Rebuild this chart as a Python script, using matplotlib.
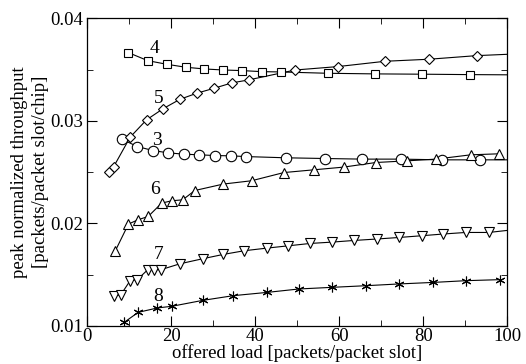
import matplotlib
matplotlib.use("Agg")
import matplotlib.pyplot as plt
from matplotlib.ticker import MultipleLocator

plt.rcParams['font.family'] = ['Liberation Serif', 'DejaVu Serif']

# Series (x = offered load, y = peak normalized throughput)
x3 = [8.2, 11.9, 15.6, 19.3, 23.1, 26.7, 30.4, 34.2, 37.7, 47.2, 56.6, 65.5, 74.7, 84.4, 93.5]
y3 = [0.02822, 0.02750, 0.02711, 0.02688, 0.02675, 0.02669, 0.02662, 0.02659, 0.02652,
      0.02640, 0.02633, 0.02627, 0.02627, 0.02620, 0.02620]

x4 = [9.8, 14.4, 18.9, 23.4, 27.9, 32.4, 36.9, 41.5, 46.0, 57.2, 68.5, 79.8, 91.0]
y4 = [0.03665, 0.03587, 0.03552, 0.03523, 0.03506, 0.03496, 0.03490, 0.03480, 0.03477,
      0.03464, 0.03458, 0.03455, 0.03451]

x5 = [5.2, 6.3, 10.2, 14.1, 18.1, 22.1, 26.1, 30.2, 34.4, 38.5, 49.5, 59.6, 70.9, 81.4, 92.7]
y5 = [0.02500, 0.02555, 0.02841, 0.03010, 0.03120, 0.03211, 0.03270, 0.03318, 0.03370,
      0.03400, 0.03496, 0.03529, 0.03581, 0.03601, 0.03636]

x6 = [6.6, 9.8, 12.1, 14.5, 17.7, 20.1, 22.7, 25.6, 32.4, 39.1, 46.8, 54.0, 61.0, 68.7,
      76.0, 83.0, 91.3, 98.1]
y6 = [0.01727, 0.01994, 0.02036, 0.02068, 0.02198, 0.02221, 0.02230, 0.02321, 0.02384,
      0.02416, 0.02496, 0.02523, 0.02549, 0.02594, 0.02610, 0.02627, 0.02669, 0.02679]

x7 = [6.3, 8.0, 10.2, 11.9, 14.4, 15.9, 17.5, 22.1, 27.5, 32.4, 37.4, 42.9, 47.9, 53.1,
      58.3, 63.5, 68.9, 74.2, 79.6, 84.8, 90.1, 95.6]
y7 = [0.01289, 0.01306, 0.01442, 0.01452, 0.01549, 0.01549, 0.01549, 0.01607, 0.01656,
      0.01698, 0.01734, 0.01760, 0.01782, 0.01805, 0.01818, 0.01834, 0.01848, 0.01863,
      0.01880, 0.01897, 0.01912, 0.01912]

x8 = [8.8, 12.1, 16.7, 20.1, 27.5, 34.8, 42.9, 50.4, 58.3, 66.4, 74.2, 82.4, 90.2, 98.3]
y8 = [0.01036, 0.01133, 0.01176, 0.01192, 0.01250, 0.01296, 0.01328, 0.01361, 0.01377,
      0.01393, 0.01410, 0.01425, 0.01442, 0.01452]

# where each curve meets the right edge (x = 100)
line_end = {"3": 0.02620, "4": 0.03449, "5": 0.03649, "7": 0.01932}

series = [
    ("3", x3, y3, "o", 7.5),
    ("4", x4, y4, "s", 5.5),
    ("5", x5, y5, "D", 5),
    ("6", x6, y6, "^", 6.5),
    ("7", x7, y7, "v", 6.5),
    ("8", x8, y8, (6, 2, 0), 7),
]

# curve labels
label_pos = {"4": (16.1, 0.0371), "5": (16.9, 0.0322), "3": (16.5, 0.0281),
             "6": (16.1, 0.0233), "7": (17.1, 0.01695), "8": (16.9, 0.0129)}

fig = plt.figure(figsize=(5.26, 3.64), dpi=100)
ax = fig.add_axes([87.3 / 526, 1 - 326 / 364, 420 / 526, 307.7 / 364])

for name, xs, ys, mk, ms in series:
    lx = list(xs)
    ly = list(ys)
    if name in line_end:
        lx.append(100)
        ly.append(line_end[name])
    ax.plot(lx, ly, color="black", lw=0.8, zorder=2)
    ax.plot(xs, ys, linestyle="none", marker=mk, ms=ms, mfc="white", mec="black",
            mew=0.8, zorder=3)
    tx, ty = label_pos[name]
    ax.text(tx, ty, name, fontsize=14, ha="center", va="center", zorder=4)

ax.set_xlim(0, 100)
ax.set_ylim(0.01, 0.04)
ax.xaxis.set_major_locator(MultipleLocator(20))
ax.xaxis.set_minor_locator(MultipleLocator(10))
ax.yaxis.set_major_locator(MultipleLocator(0.01))
ax.yaxis.set_minor_locator(MultipleLocator(0.005))
ax.tick_params(which="both", direction="in", top=True, right=True, labelsize=13.5)
ax.tick_params(which="major", length=7)
ax.tick_params(which="minor", length=4)
ax.tick_params(axis="x", pad=1.5)
ax.tick_params(axis="y", pad=3)
for s in ax.spines.values():
    s.set_linewidth(0.9)

ax.set_xlabel("offered load [packets/packet slot]", fontsize=13.5, labelpad=-1)
ax.set_ylabel("peak normalized throughput\n[packets/packet slot/chip]", fontsize=13.5,
              labelpad=1, linespacing=1.3)

fig.savefig("out.png", dpi=100)
